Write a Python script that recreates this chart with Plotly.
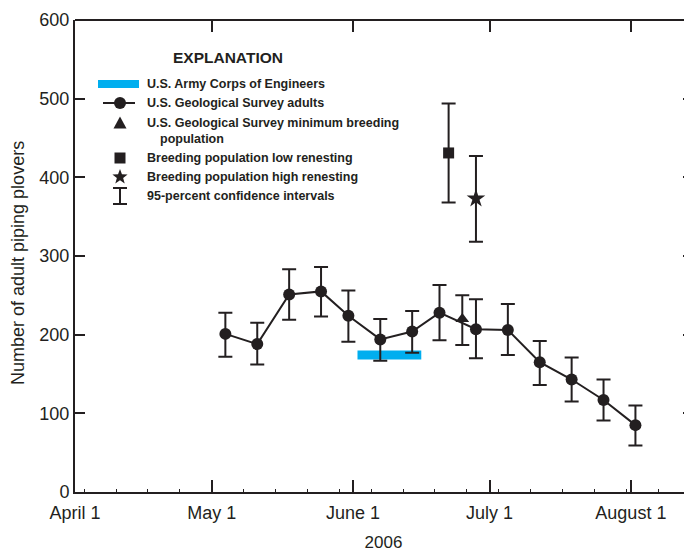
import math
import plotly.graph_objects as go

# ---------------- data ----------------
adult_dates = ["2006-05-04", "2006-05-11", "2006-05-18", "2006-05-25", "2006-05-31",
               "2006-06-07", "2006-06-14", "2006-06-20", "2006-06-28", "2006-07-05",
               "2006-07-12", "2006-07-19", "2006-07-26", "2006-08-02"]
adult_counts = [201, 188, 251, 255, 224, 194, 204, 228, 207, 206, 165, 143, 117, 85]
adult_upper = [228, 215, 283, 286, 256, 220, 230, 263, 245, 239, 192, 171, 143, 110]
adult_lower = [172, 162, 219, 223, 191, 167, 177, 193, 170, 174, 136, 115, 91, 59]

min_breed_date = ["2006-06-25"]
min_breed_count = [220]
min_breed_upper = [250]
min_breed_lower = [187]

low_renest_date = ["2006-06-22"]
low_renest_count = [431]
low_renest_upper = [494]
low_renest_lower = [368]

high_renest_date = ["2006-06-28"]
high_renest_count = [373]
high_renest_upper = [427]
high_renest_lower = [318]

corps_dates = ["2006-06-02", "2006-06-16"]
corps_counts = [174, 174]

month_ticks = ["2006-04-01", "2006-05-01", "2006-06-01", "2006-07-01", "2006-08-01"]
month_labels = ["April 1", "May 1", "June 1", "July 1", "August 1"]
week_ticks = ["2006-04-03", "2006-04-10", "2006-04-17", "2006-04-24", "2006-05-08",
              "2006-05-15", "2006-05-22", "2006-05-29", "2006-06-05", "2006-06-12",
              "2006-06-19", "2006-06-26", "2006-07-03", "2006-07-10", "2006-07-17",
              "2006-07-24", "2006-07-31", "2006-08-07"]
y_ticks = [0, 100, 200, 300, 400, 500, 600]

legend_labels = ["U.S. Army Corps of Engineers", "U.S. Geological Survey adults",
                 "U.S. Geological Survey minimum breeding", "population",
                 "Breeding population low renesting", "Breeding population high renesting",
                 "95-percent confidence intervals"]

# ---------------- style ----------------
INK = "#231F20"
BLUE = "#00AEEF"
FONT = "Liberation Sans, Arial, sans-serif"
OFF = 8                       # page body margin of the browser
W, H = 684, 546
ML, MR, MT, MB = 67, 0, 12, 62
PW, PH = W - ML - MR, H - MT - MB


def px(sx):   # screenshot pixel -> paper fraction
    return (sx - OFF - ML) / PW


def py(sy):
    return (H - MB - (sy - OFF)) / PH


def err(vals, up, lo):
    return dict(type="data", symmetric=False,
                array=[u - v for u, v in zip(up, vals)],
                arrayminus=[v - l for v, l in zip(vals, lo)],
                color=INK, thickness=2, width=7)


fig = go.Figure()

fig.add_trace(go.Scatter(x=corps_dates, y=corps_counts, mode="lines",
                         line=dict(color=BLUE, width=9), showlegend=False))
fig.add_trace(go.Scatter(x=adult_dates, y=adult_counts, mode="lines+markers",
                         line=dict(color=INK, width=2),
                         marker=dict(symbol="circle", size=12, color=INK),
                         error_y=err(adult_counts, adult_upper, adult_lower),
                         showlegend=False))
fig.add_trace(go.Scatter(x=min_breed_date, y=min_breed_count, mode="markers",
                         marker=dict(symbol="triangle-up", size=12, color=INK),
                         error_y=err(min_breed_count, min_breed_upper, min_breed_lower),
                         showlegend=False))
fig.add_trace(go.Scatter(x=low_renest_date, y=low_renest_count, mode="markers",
                         marker=dict(symbol="square", size=11, color=INK),
                         error_y=err(low_renest_count, low_renest_upper, low_renest_lower),
                         showlegend=False))
fig.add_trace(go.Scatter(x=high_renest_date, y=high_renest_count, mode="markers",
                         marker=dict(symbol="star", size=14, color=INK),
                         error_y=err(high_renest_count, high_renest_upper, high_renest_lower),
                         showlegend=False))

# empty trace to realise top / right tick axes
fig.add_trace(go.Scatter(x=[], y=[], xaxis="x2", yaxis="y2", showlegend=False,
                         hoverinfo="skip"))


def pix_shape(sx, sy, **kw):
    d = dict(xref="paper", yref="paper", xsizemode="pixel", ysizemode="pixel",
             xanchor=px(sx), yanchor=py(sy), fillcolor=INK,
             line=dict(color=INK, width=0))
    d.update(kw)
    return d


def star_path(r_out, r_in):
    pts = []
    for k in range(10):
        r = r_out if k % 2 == 0 else r_in
        a = math.pi / 2 + k * math.pi / 5
        pts.append((r * math.cos(a), r * math.sin(a)))
    return "M" + " L".join(f"{x:.2f},{y:.2f}" for x, y in pts) + " Z"


shapes = [
    dict(type="line", xref="paper", yref="paper", x0=px(98), x1=px(139),
         y0=py(84), y1=py(84), line=dict(color=BLUE, width=8)),
    dict(type="line", xref="paper", yref="paper", x0=px(103), x1=px(135),
         y0=py(103), y1=py(103), line=dict(color=INK, width=2)),
    pix_shape(120, 103, type="circle", x0=-6, x1=6, y0=-6, y1=6),
    pix_shape(120, 123, type="path", path="M-6.5,-5.5 L6.5,-5.5 L0,6.5 Z"),
    pix_shape(120, 158, type="rect", x0=-5.5, x1=5.5, y0=-5.5, y1=5.5),
    pix_shape(120, 177, type="path", path=star_path(8, 3.3)),
    dict(type="line", xref="paper", yref="paper", x0=px(120), x1=px(120),
         y0=py(188), y1=py(204), line=dict(color=INK, width=2)),
    dict(type="line", xref="paper", yref="paper", x0=px(113), x1=px(127),
         y0=py(188), y1=py(188), line=dict(color=INK, width=2)),
    dict(type="line", xref="paper", yref="paper", x0=px(113), x1=px(127),
         y0=py(204), y1=py(204), line=dict(color=INK, width=2)),
    # top frame line
    dict(type="line", xref="paper", yref="paper", x0=0, x1=1, y0=1, y1=1,
         line=dict(color=INK, width=2)),
]

annotations = [
    dict(text="<b>EXPLANATION</b>", xref="paper", yref="paper",
         x=px(228), y=py(57), showarrow=False,
         font=dict(family=FONT, size=15.5, color=INK),
         xanchor="center", yanchor="middle"),
    dict(text="Number of adult piping plovers", xref="paper", yref="paper",
         x=px(18), y=py(263), showarrow=False, textangle=-90,
         font=dict(family=FONT, size=18, color=INK),
         xanchor="center", yanchor="middle"),
]
leg_pos = [(145, 84), (145, 103), (145, 123), (158, 139), (145, 158), (145, 177), (145, 196)]
for lab, (lx, ly) in zip(legend_labels, leg_pos):
    annotations.append(dict(text="<b>" + lab + "</b>", xref="paper", yref="paper",
                            x=px(lx), y=py(ly), showarrow=False,
                            font=dict(family=FONT, size=12.5, color=INK),
                            xanchor="left", yanchor="middle"))

xrange = ["2006-04-01", "2006-08-14 10:00"]

fig.update_layout(
    width=W, height=H,
    margin=dict(l=ML, r=MR, t=MT, b=MB, autoexpand=False),
    paper_bgcolor="white", plot_bgcolor="white",
    font=dict(family=FONT, size=18, color=INK),
    showlegend=False,
    shapes=shapes, annotations=annotations,
    xaxis=dict(type="date", range=xrange, showline=True, linecolor=INK, linewidth=2,
               showgrid=False, zeroline=False, ticks="inside", ticklen=12,
               tickwidth=1.5, tickcolor=INK, tickmode="array", tickvals=month_ticks,
               ticktext=month_labels, tickfont=dict(size=18), ticklabelstandoff=3,
               minor=dict(ticks="inside", ticklen=3, tickwidth=1, tickcolor=INK,
                          tickmode="array", tickvals=week_ticks, showgrid=False),
               title=dict(text="2006", font=dict(size=17), standoff=15),
               fixedrange=True),
    xaxis2=dict(type="date", range=xrange, overlaying="x", side="top", anchor="y",
                showline=False, showgrid=False, zeroline=False, ticks="inside",
                ticklen=12, tickwidth=1.5, tickcolor=INK, tickmode="array",
                tickvals=month_ticks, showticklabels=False, fixedrange=True),
    yaxis=dict(range=[0, 600], showline=True, linecolor=INK, linewidth=2,
               showgrid=False, zeroline=False, ticks="inside", ticklen=10,
               tickwidth=1.5, tickcolor=INK, tickmode="array", tickvals=y_ticks,
               tickfont=dict(size=18), fixedrange=True),
    yaxis2=dict(range=[0, 600], overlaying="y", side="right", anchor="x",
                showline=False, showgrid=False, zeroline=False, ticks="inside",
                ticklen=9, tickwidth=1.5, tickcolor=INK, tickmode="array",
                tickvals=y_ticks, showticklabels=False, fixedrange=True),
)

fig.write_html("out.html")
